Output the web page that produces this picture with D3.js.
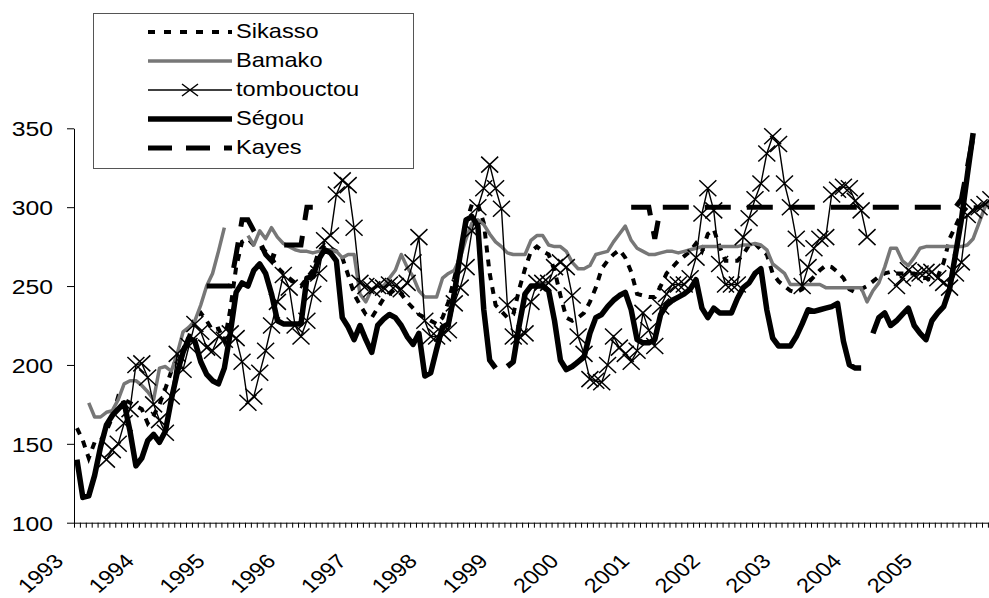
<!DOCTYPE html>
<html><head><meta charset="utf-8">
<script src="https://cdn.jsdelivr.net/npm/d3@7"></script>
<style>html,body{margin:0;padding:0;background:#fff;}svg{display:block;}</style>
</head><body>
<svg id="chart" width="989" height="598"></svg>
<script>
const years = ["1993","1994","1995","1996","1997","1998","1999","2000","2001","2002","2003","2004","2005"];
const seriesNames = ["Sikasso","Bamako","tombouctou","Ségou","Kayes"];
const yTicks = [100,150,200,250,300,350];

const sikasso = [160,152,141,151,152,158,167,180,178,176,
174,172,163,168,175,185,196,205,210,218,
230,233,228,222,223,215,235,262,278,280,
276,275,272,268,262,258,255,252,250,255,
260,272,276,274,272,268,257,245,238,232,
230,236,242,245,248,245,240,236,232,
230,228,226,230,240,255,270,290,302,302,
290,258,238,234,230,232,248,261,272,275,
272,270,260,244,230,228,230,233,240,249,
261,266,270,273,268,259,245,244,243,243,
250,258,262,266,269,272,277,272,283,286,
275,266,266,266,270,276,277,273,270,258,
253,250,247,246,248,252,256,260,263,262,
259,255,248,246,248,250,253,256,258,259,
258,258,258,258,256,255,254,256,265,280,
288,296,300,300,300,300,
300];

const bamako = [null,null,176,167,167,170,171,178,188,190,
190,187,183,178,198,199,196,207,221,224,
228,238,250,258,272,287,null,null,null,282,
276,285,280,287,281,277,275,273,272,272,
271,272,273,273,272,268,270,270,245,240,
248,250,250,255,260,270,262,256,247,
243,243,243,255,258,260,268,280,290,292,
289,283,278,275,271,270,270,270,279,282,
282,276,275,275,272,265,261,261,263,270,
271,272,278,283,288,279,274,272,270,270,
271,272,272,271,272,273,274,275,275,275,
275,275,275,275,276,276,277,276,273,264,
261,258,251,251,251,251,251,251,249,249,
249,249,249,249,249,240,247,252,262,274,
274,266,263,268,274,275,275,275,275,275,
275,275,276,280,290,300,
305];

const tombouctou = [null,null,null,null,null,140,146,150,163,172,
200,201,192,175,165,157,180,207,197,212,
226,221,211,209,218,216,220,217,202,176,
180,195,209,225,240,257,249,225,218,228,
245,258,279,282,308,317,314,287,252,250,
248,250,249,251,250,248,252,265,281,
228,218,218,220,222,239,249,262,285,300,
312,327,312,299,238,218,218,220,240,252,
252,252,262,265,262,244,218,207,191,190,
189,200,218,211,207,202,209,233,222,212,
237,245,251,251,251,255,268,296,312,298,
264,251,251,251,281,293,305,315,334,345,
340,315,300,280,250,262,274,280,281,308,
311,313,312,304,298,281,null,null,null,null,
250,255,260,257,258,259,259,255,252,249,
258,265,295,298,300,302,
305];

const segou = [140,116,117,130,148,162,168,172,176,158,
136,141,152,156,151,158,178,195,208,217,
215,202,194,190,188,198,220,246,252,250,
260,264,258,245,228,226,226,226,226,255,
256,267,273,271,266,230,224,216,225,216,
208,225,229,232,230,225,218,213,220,
193,195,210,224,226,245,270,292,294,288,
235,203,198,null,199,202,225,245,250,250,
250,247,228,203,197,199,202,205,220,230,
232,237,241,244,246,235,216,214,214,216,
232,238,241,243,245,248,254,236,230,236,
233,233,233,242,249,252,258,261,235,217,
212,212,212,218,226,235,234,235,236,237,
239,215,200,198,198,null,220,230,233,225,
228,232,236,225,220,216,228,233,237,248,
270,292,320,347,null,null,
null];

const kayes = [null,null,null,null,null,null,null,null,null,null,
null,null,null,null,null,null,null,null,null,null,
null,null,250,250,250,250,250,270,292,292,
285,278,270,266,276,276,276,276,276,300,
300,null,null,null,null,null,null,null,null,null,
null,null,null,null,null,null,null,null,null,
null,null,null,null,null,null,null,null,null,null,
null,null,null,null,null,null,null,null,null,null,
null,null,null,null,null,null,null,null,null,null,
null,null,null,null,null,300,300,300,300,280,
300,300,300,300,300,300,300,300,300,300,
300,300,300,300,300,300,300,300,300,300,
300,300,300,300,300,300,300,300,300,300,
300,300,300,300,300,300,300,300,300,300,
300,300,300,300,300,300,300,300,300,300,
300,305,325,345,null,null,
null];

const FONT = "'Liberation Sans', Arial, sans-serif";
const SX = 1.18;
const svg = d3.select("#chart");

const x = d3.scaleBand().domain(d3.range(sikasso.length)).range([74, 993.8]).padding(0);
const xb = d3.scaleLinear().domain([0, sikasso.length]).range([74, 993.8]);
const y = d3.scaleLinear().domain([100, 350]).range([522.7, 128.3]);
const xc = i => x(i) + x.bandwidth() / 2;

// x axis (ticks at category boundaries)
const gx = svg.append("g").attr("transform", "translate(0,522.7)")
  .call(d3.axisBottom(xb).tickValues(d3.range(sikasso.length + 1)).tickSize(5).tickSizeOuter(0).tickFormat(""));
gx.select(".domain").attr("stroke", "#000").attr("stroke-width", 1);
gx.selectAll(".tick line").attr("stroke", "#000").attr("stroke-width", 1);

// year labels
svg.append("g").selectAll("text").data(years).join("text")
  .attr("transform", (d, k) => `translate(${xc(k * 12) - 12.1},562.5) scale(${SX},1) rotate(-45)`)
  .attr("text-anchor", "end")
  .attr("font-family", FONT).attr("font-size", 20).attr("fill", "#000")
  .text(d => d);

// y axis
const gy = svg.append("g").attr("transform", "translate(74,0)")
  .call(d3.axisLeft(y).tickValues(yTicks).tickSize(7).tickSizeOuter(0).tickFormat(d3.format("d")));
gy.attr("font-size", null).attr("font-family", null);
gy.select(".domain").attr("stroke", "#000").attr("stroke-width", 1);
gy.selectAll(".tick line").attr("stroke", "#000");
gy.selectAll(".tick text")
  .attr("x", null).attr("dy", null)
  .attr("transform", `translate(-21,7.5) scale(${SX},1)`)
  .attr("text-anchor", "end")
  .attr("font-family", FONT).attr("font-size", 21).attr("fill", "#000");

const line = d3.line().defined(d => d != null).x((d, i) => xc(i)).y(d => y(d));

const styles = {
  "Sikasso":    {data: sikasso,    stroke: "#000",    width: 4,   dash: "7,7",   join: "miter"},
  "Bamako":     {data: bamako,     stroke: "#777777", width: 3.5, dash: null,    join: "round"},
  "tombouctou": {data: tombouctou, stroke: "#000",    width: 1.4, dash: null,    join: "miter"},
  "Ségou":      {data: segou,      stroke: "#000",    width: 5.5, dash: null,    join: "round"},
  "Kayes":      {data: kayes,      stroke: "#000",    width: 5,   dash: "26,16", join: "miter"}
};

const plot = svg.append("g");
seriesNames.forEach(name => {
  const s = styles[name];
  plot.append("path").datum(s.data)
    .attr("d", line)
    .attr("fill", "none")
    .attr("stroke", s.stroke)
    .attr("stroke-width", s.width)
    .attr("stroke-linejoin", s.join)
    .attr("stroke-dasharray", s.dash);
  if (name === "tombouctou") {
    plot.append("g").selectAll("path")
      .data(s.data.map((v, i) => [i, v]).filter(d => d[1] != null))
      .join("path")
      .attr("transform", d => `translate(${xc(d[0])},${y(d[1])})`)
      .attr("d", "M-8.5,-8L8.5,8M-8.5,8L8.5,-8")
      .attr("stroke", "#000").attr("stroke-width", 1.5).attr("fill", "none");
  }
});

// legend
const lg = svg.append("g");
lg.append("rect").attr("x", 93.5).attr("y", 13.5).attr("width", 320).attr("height", 155)
  .attr("fill", "#fff").attr("stroke", "#555").attr("stroke-width", 1);
seriesNames.forEach((name, k) => {
  const s = styles[name];
  const base = 38 + k * 29;
  const ly = base - 6;
  lg.append("line").attr("x1", 148).attr("x2", 232).attr("y1", ly).attr("y2", ly)
    .attr("stroke", s.stroke).attr("stroke-width", s.width)
    .attr("stroke-dasharray", name === "Sikasso" ? "7,9" : name === "Kayes" ? "24,14" : null);
  if (name === "tombouctou") {
    lg.append("path").attr("transform", `translate(190,${ly})`)
      .attr("d", "M-8,-6L8,6M-8,6L8,-6").attr("stroke", "#000").attr("stroke-width", 1.5);
  }
  lg.append("text")
    .attr("transform", `translate(236,${base}) scale(${SX},1)`)
    .attr("font-family", FONT).attr("font-size", 20).attr("fill", "#000")
    .text(name);
});
</script>
</body></html>
